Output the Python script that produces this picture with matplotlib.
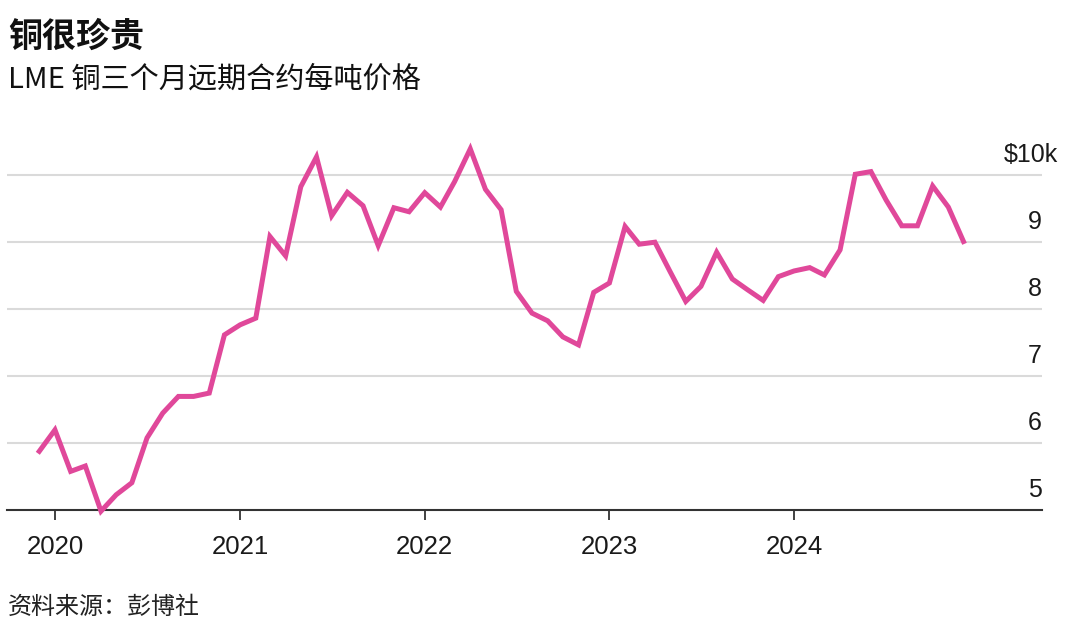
import pandas as pd
import matplotlib.pyplot as plt
import matplotlib.dates as mdates
import matplotlib.transforms as mtransforms

# LME copper 3-month price, USD per tonne, monthly Dec 2019 - Dec 2024
months = pd.date_range('2019-12-01', periods=61, freq='MS')
price = [5870, 6190, 5570, 5650, 4975, 5220, 5400, 6070, 6440, 6690,
         6690, 6740, 7610, 7760, 7860, 9080, 8790, 9825, 10270, 9390,
         9740, 9540, 8945, 9510, 9450, 9735, 9520, 9900, 10390, 9785,
         9480, 8260, 7935, 7820, 7580, 7460, 8245, 8385, 9230, 8965,
         8995, 8555, 8110, 8335, 8845, 8445, 8285, 8125, 8480, 8565,
         8615, 8505, 8880, 10010, 10050, 9625, 9240, 9240, 9835, 9520,
         9005]
ytick_vals = [5000, 6000, 7000, 8000, 9000, 10000]
ytick_text = ['5', '6', '7', '8', '9', '$10k']
years = [2020, 2021, 2022, 2023, 2024]

title = '铜很珍贵'
subtitle = 'LME 铜三个月远期合约每吨价格'
source = '资料来源：彭博社'

plt.rcParams['font.family'] = ['Noto Sans CJK SC', 'DejaVu Sans']

fig = plt.figure(figsize=(10.8, 6.35), dpi=100)
ax = fig.add_axes([7/1080, 1 - 509.5/635, 1035/1080, 368/635])

ax.plot(months, price, color='#e0489a', lw=3.6, clip_on=False, zorder=5,
        solid_joinstyle='miter')

ax.set_ylim(5000, 10500)
jan2020 = mdates.date2num(pd.Timestamp('2020-01-01'))
ax.set_xlim(jan2020 - 94.8, jan2020 + 5.342 * 365.25)

# gridlines
ax.set_yticks(ytick_vals[1:])
ax.yaxis.grid(True, color='#dadada', lw=1.5)
ax.tick_params(axis='y', length=0, labelleft=False)
ax.set_axisbelow(True)

for s in ['left', 'right', 'top']:
    ax.spines[s].set_visible(False)
ax.spines['bottom'].set_color('#333333')
ax.spines['bottom'].set_linewidth(1.5)

# y labels sit above their gridline, right edge of the plot
off = mtransforms.ScaledTranslation(0, 20/100, fig.dpi_scale_trans)
for v, t in zip(ytick_vals, ytick_text):
    xpos = 1.0155 if t.startswith('$') else 0.9995
    ax.text(xpos, v, t, transform=ax.get_yaxis_transform() + off,
            ha='right', va='center', fontsize=18, color='#1a1a1a',
            family='Liberation Sans')

ax.set_xticks([pd.Timestamp(f'{y}-01-01') for y in years])
ax.set_xticklabels([str(y) for y in years], family='Liberation Sans',
                   fontsize=18.5, color='#1a1a1a')
ax.tick_params(axis='x', direction='out', length=7, width=1.3,
               color='#333333', pad=11)

fig.text(8/1080, 1 - 36/635, title, fontsize=24.5, fontweight='bold',
         color='#111111', ha='left', va='center')
fig.text(8/1080, 1 - 80/635, subtitle, fontsize=21, color='#111111',
         ha='left', va='center')
fig.text(8/1080, 1 - 607/635, source, fontsize=17.3, color='#222222',
         ha='left', va='center')

fig.savefig('out.png', dpi=100)
